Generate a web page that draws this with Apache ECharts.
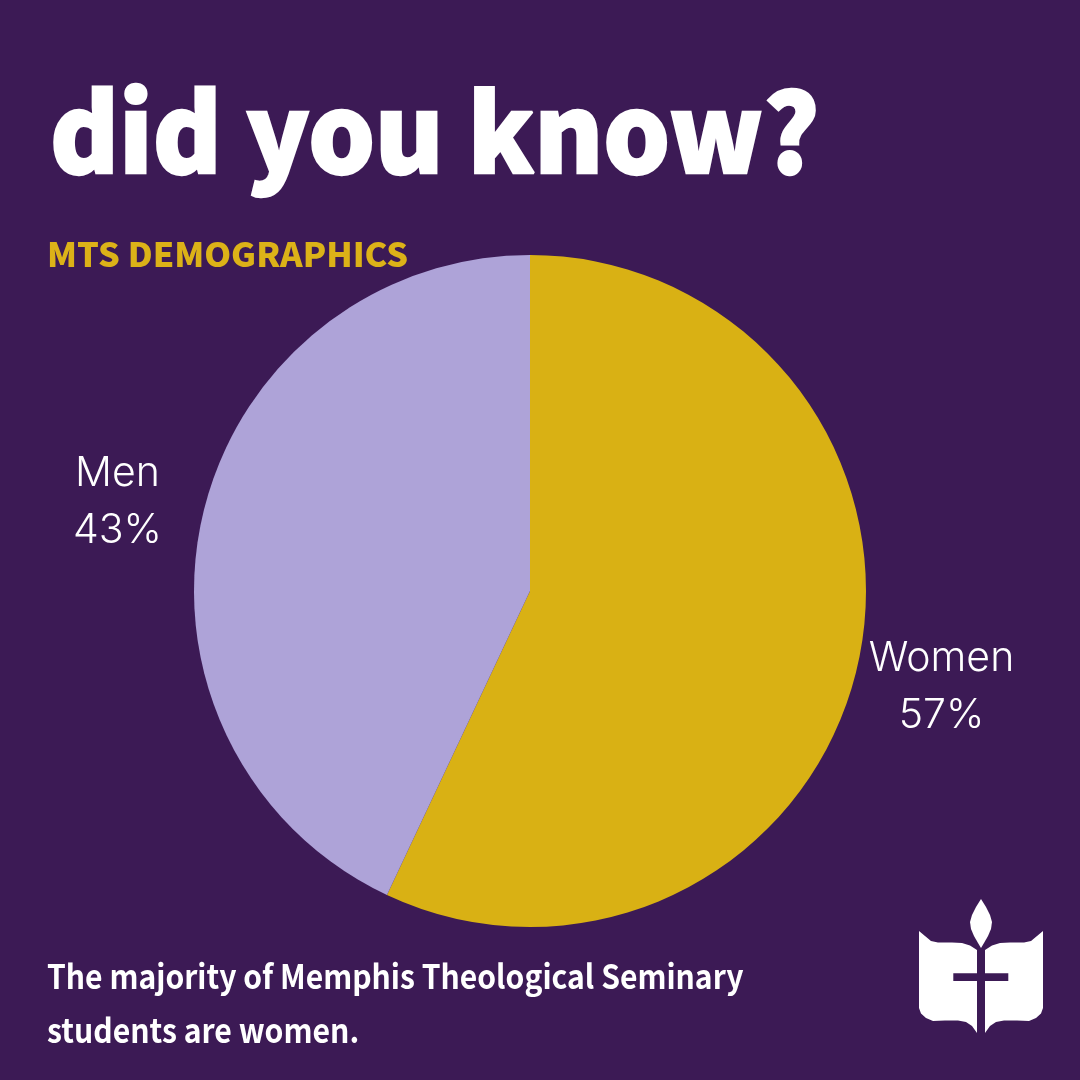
<!DOCTYPE html>
<html><head><meta charset="utf-8">
<style>html,body{margin:0;padding:0;background:#3c1a55}#c{width:1080px;height:1080px}</style>
<script src="https://cdn.jsdelivr.net/npm/echarts@6/dist/echarts.min.js"></script>
</head><body><div id="c"></div>
<script>
const categories = ['Women', 'Men'];
const shares = [57, 43];
const sliceColors = ['#d9b114', '#aea3d8'];
const labelCenters = [[941.5, 687], [117.5, 502]];
const titleText = 'did you know?';
const subtitleText = 'MTS DEMOGRAPHICS';
const noteLines = ['The majority of Memphis Theological Seminary', 'students are women.'];
const chart = echarts.init(document.getElementById('c'), null, {renderer:'canvas'});
const white = '#ffffff', bg = '#3c1a55', heavy = '"Noto Sans CJK SC"';
const leftPage = [[919,931],[925,936],[931,941],[938,942.5],[952,942.5],[962,943],[970,945.5],[977,950],[977,1033],[972,1026],[966,1022],[958,1020.5],[945,1020.5],[933,1021],[926,1018],[921,1013.5],[919,1008]];
const rightPage = leftPage.map(p=>[1962-p[0],p[1]]);
const flame = [[981,899],[976,907],[972,915],[970,922],[971,929],[974,936],[978,943],[981,948],[984,943],[988,936],[991,929],[992,922],[990,915],[986,907]];
const logo = [
  {type:'polygon', shape:{points:flame}, style:{fill:white}},
  {type:'polygon', shape:{points:leftPage}, style:{fill:white}},
  {type:'polygon', shape:{points:rightPage}, style:{fill:white}},
  {type:'rect', shape:{x:953.3,y:973.3,width:55,height:7.7}, style:{fill:bg}}
];
const line = (text,x,y,sx,font,fill,extra)=>({type:'text',x,y,scaleX:sx,style:Object.assign({text,fill,font,textAlign:'left',textVerticalAlign:'middle'},extra||{})});
chart.setOption({
  backgroundColor:bg,
  animation:false,
  series:[{
    type:'pie',
    center:[530,591],
    radius:[0,336],
    startAngle:90,
    clockwise:true,
    silent:true,
    label:{show:true,position:'outside',formatter:'{b}\n{c}%',color:white,fontFamily:'Inter',fontWeight:300,fontSize:41,lineHeight:57,align:'center'},
    labelLine:{show:false},
    labelLayout:(p)=>({x:labelCenters[p.dataIndex][0],y:labelCenters[p.dataIndex][1],align:'center',verticalAlign:'middle'}),
    data:categories.map((n,i)=>({name:n,value:shares[i],itemStyle:{color:sliceColors[i]}}))
  }],
  graphic:[
    line(titleText,50,132,0.972,'900 108px '+heavy,white,{stroke:white,lineWidth:2.5}),
    line(subtitleText,47,254,1.037,'900 33px '+heavy,'#dcb218'),
    line(noteLines[0],47,976,0.912,'700 33px '+heavy,white),
    line(noteLines[1],47,1030,0.915,'700 33px '+heavy,white),
    ...logo
  ]
});
</script></body></html>
